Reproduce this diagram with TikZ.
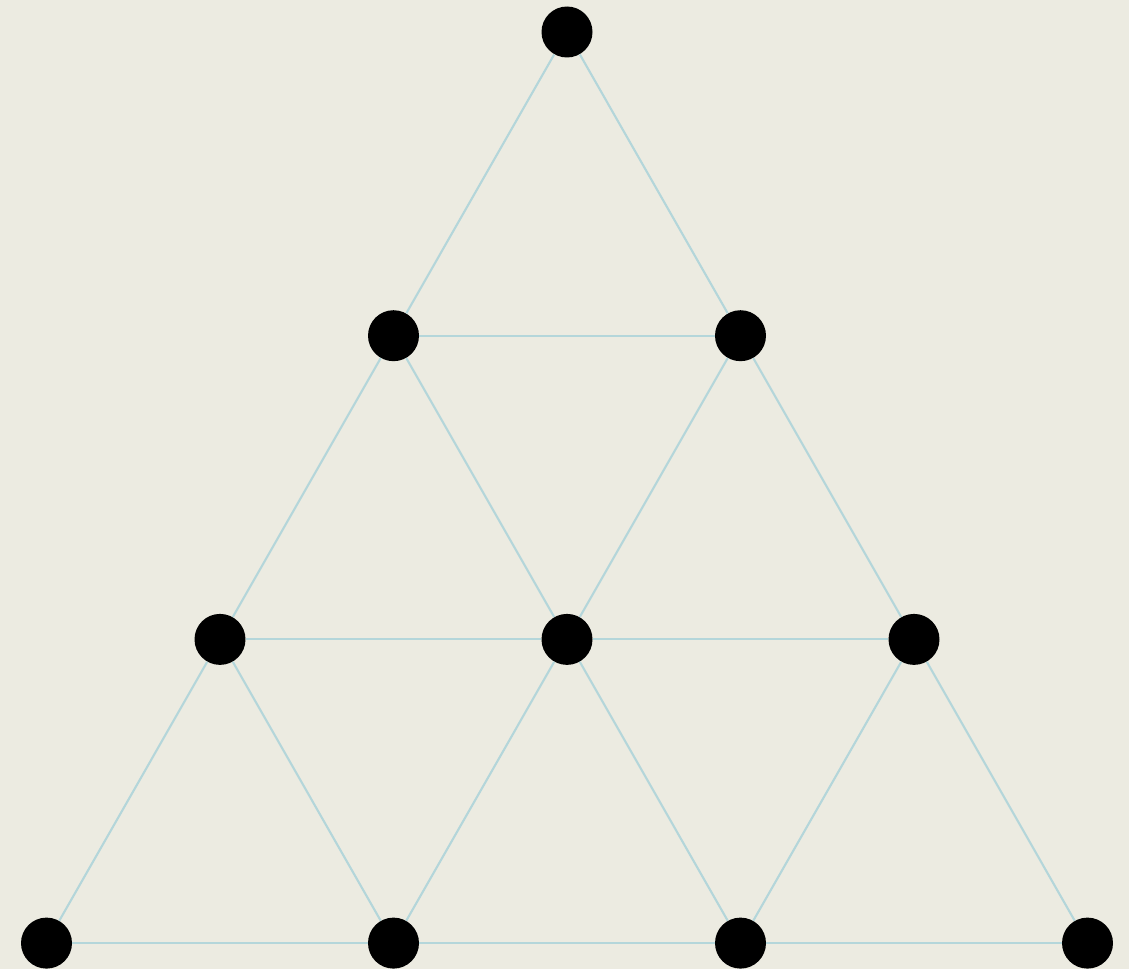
\documentclass[tikz,border=0pt]{standalone}
\usepackage{tikz}
\usetikzlibrary{calc}

\definecolor{paper}{HTML}{ECEBE1}
\definecolor{gridline}{HTML}{B4D6DA}

\begin{document}
\begin{tikzpicture}[x=0.02cm,y=-0.02cm,
  dot/.style={circle,fill=black,inner sep=0pt,minimum size=1.02cm},
  edge/.style={gridline,line width=1.2pt}]

\fill[paper] (0,0) rectangle (1129,969);
\useasboundingbox (0,0) rectangle (1129,969);

% rows of dots
\foreach \k in {0,...,3}{
  \foreach \j in {0,...,\k}{
    \node[dot] (d\k\j) at ({567+(\j-\k/2)*347},{32+\k*303.7}) {};
  }
}

% slanted edges
\foreach \k in {0,1,2}{
  \pgfmathtruncatemacro{\n}{\k+1}
  \foreach \j in {0,...,\k}{
    \pgfmathtruncatemacro{\m}{\j+1}
    \draw[edge] (d\k\j) -- (d\n\j);
    \draw[edge] (d\k\j) -- (d\n\m);
  }
}

% horizontal edges
\foreach \k in {1,2,3}{
  \pgfmathtruncatemacro{\last}{\k-1}
  \foreach \j in {0,...,\last}{
    \pgfmathtruncatemacro{\m}{\j+1}
    \draw[edge] (d\k\j) -- (d\k\m);
  }
}
\end{tikzpicture}
\end{document}
